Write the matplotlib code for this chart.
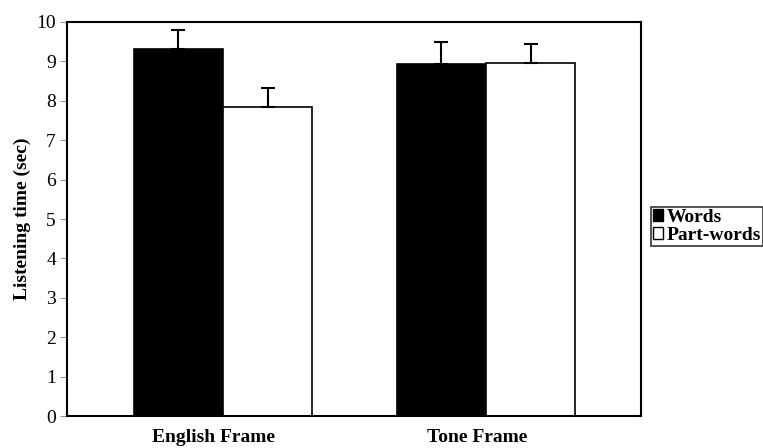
import numpy as np
import matplotlib.pyplot as plt
from matplotlib.patches import Patch

# listening times (sec)
frames = ["English Frame", "Tone Frame"]
words = [9.32, 8.93]
part_words = [7.85, 8.97]
words_err = [0.48, 0.56]
part_words_err = [0.48, 0.47]

serif = ["Liberation Serif", "DejaVu Serif"]
plt.rcParams["font.family"] = serif

fig = plt.figure(figsize=(7.63, 4.48), dpi=100)
ax = fig.add_axes([67 / 763, 1 - 416 / 448, (641 - 67) / 763, (416 - 22) / 448])

x = np.arange(len(frames))
w = 0.34
err_kw = dict(ecolor="black", elinewidth=1.5, capsize=4.7, capthick=1.5)
ax.bar(x - w / 2, words, w, color="black", edgecolor="black", linewidth=1.2,
       yerr=[np.zeros(len(words)), words_err], error_kw=err_kw)
ax.bar(x + w / 2, part_words, w, color="white", edgecolor="black", linewidth=1.2,
       yerr=[np.zeros(len(part_words)), part_words_err], error_kw=err_kw)

ax.set_xlim(-0.593, 1.589)
ax.set_ylim(0, 10)
ax.set_yticks(range(0, 11))
ax.tick_params(axis="y", labelsize=14, length=5, width=0.6, color="gray", pad=3)
ax.set_xticks(x - 0.035)
ax.set_xticklabels(frames, fontsize=14, fontweight="bold")
ax.tick_params(axis="x", length=0, pad=9)
for s in ax.spines.values():
    s.set_linewidth(1.5)

ax.set_ylabel("Listening time (sec)", fontsize=14, fontweight="bold", labelpad=4)

handles = [Patch(facecolor="black", edgecolor="black"),
           Patch(facecolor="white", edgecolor="black")]
leg = fig.legend(handles, ["Words", "Part-words"], loc="upper left",
                 bbox_to_anchor=(651 / 763, 1 - 207 / 448),
                 prop={"family": serif, "weight": "bold", "size": 14},
                 frameon=True, fancybox=False, edgecolor="black",
                 handlelength=0.5, handleheight=0.5, handletextpad=0.2,
                 borderpad=0.1, labelspacing=0.05, borderaxespad=0)
leg.get_frame().set_linewidth(1.2)

fig.savefig("out.png", dpi=100)
